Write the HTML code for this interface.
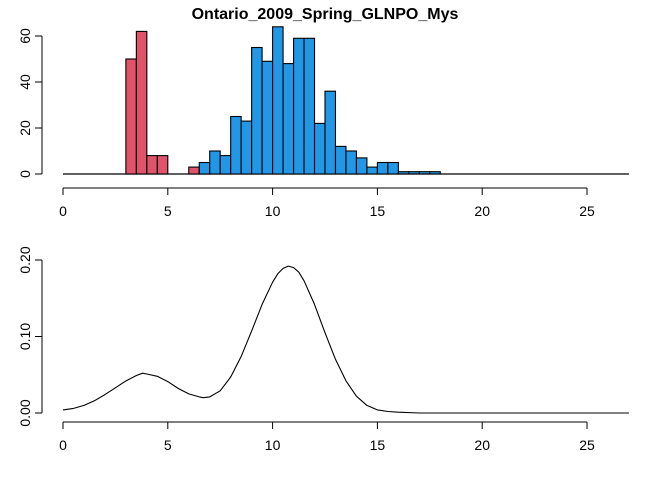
<!DOCTYPE html>
<html><head><meta charset="utf-8"><style>
html,body{margin:0;padding:0;background:#fff;}
svg{display:block;font-family:"Liberation Sans",Arial,sans-serif;}
</style></head><body>
<svg id="c" width="672" height="480" xmlns="http://www.w3.org/2000/svg">
<text x="325" y="19" text-anchor="middle" font-size="16" font-weight="bold">Ontario_2009_Spring_GLNPO_Mys</text>
<g id="topPanel"></g>
<g id="botPanel"></g>
</svg>
<script>
const redStarts = [3, 3.5, 4, 4.5, 6, 6.5];
const redCounts = [50, 62, 8, 8, 3, 2];
const blueStarts = [6.5,7,7.5,8,8.5,9,9.5,10,10.5,11,11.5,12,12.5,13,13.5,14,14.5,15,15.5,16,16.5,17,17.5];
const blueCounts = [5,10,8,25,23,55,49,64,48,59,59,22,36,12,10,7,3,5,5,1,1,1,1];
const binWidth = 0.5;
const xTicks = [0,5,10,15,20,25];
const histYTicks = [0,20,40,60];
const densX = [0,0.5,1,1.5,2,2.5,3,3.5,3.8,4,4.5,5,5.5,6,6.5,6.7,7,7.5,8,8.5,9,9.5,10,10.25,10.5,10.75,11,11.25,11.5,12,12.5,13,13.5,14,14.5,15,15.5,16,17,18,20,22,24,26,27];
const densY = [0.004,0.006,0.010,0.016,0.024,0.033,0.042,0.049,0.052,0.051,0.048,0.041,0.032,0.025,0.021,0.020,0.021,0.029,0.047,0.074,0.107,0.142,0.171,0.182,0.189,0.192,0.190,0.184,0.173,0.142,0.105,0.070,0.042,0.022,0.010,0.004,0.002,0.001,0,0,0,0,0,0,0];
const densYTicks = [0,0.1,0.2];
const densYLabels = ["0.00","0.10","0.20"];

const NS="http://www.w3.org/2000/svg";
function mk(parent,tag,attrs){const e=document.createElementNS(NS,tag);for(const k in attrs)e.setAttribute(k,attrs[k]);parent.appendChild(e);return e;}
const xs = v => 63 + v*(587-63)/25;
const hy = v => 174 - v*(174-36)/60;
const dy = v => 413 - v*(413-260)/0.2;
const topG=document.getElementById('topPanel'), botG=document.getElementById('botPanel');

let bl=mk(topG,'line',{x1:xs(0),x2:xs(27),y1:hy(0),y2:hy(0),stroke:'#000','stroke-width':1.3});


redStarts.forEach((s,i)=>{
  const r=mk(topG,'rect',{x:xs(s),y:hy(redCounts[i]),width:xs(s+binWidth)-xs(s),height:hy(0)-hy(redCounts[i]),fill:'#DF536B',stroke:'#000','stroke-width':1.1});
  
  
});
blueStarts.forEach((s,i)=>{
  const r=mk(topG,'rect',{x:xs(s),y:hy(blueCounts[i]),width:xs(s+binWidth)-xs(s),height:hy(0)-hy(blueCounts[i]),fill:'#2297E6',stroke:'#000','stroke-width':1.1});
  
  
});
function xAxis(g,y,name){
  const a=mk(g,'line',{x1:xs(0),x2:xs(25),y1:y,y2:y,stroke:'#000'});
  
  
  xTicks.forEach(t=>{
    mk(g,'line',{x1:xs(t),x2:xs(t),y1:y,y2:y+7,stroke:'#000'});
    const tx=mk(g,'text',{x:xs(t),y:y+28,'text-anchor':'middle','font-size':14,fill:'#000'});
    tx.textContent=t;
    
    
  });
}
function yAxis(g,ticks,labels,f,name){
  const a=mk(g,'line',{x1:42,x2:42,y1:f(ticks[0]),y2:f(ticks[ticks.length-1]),stroke:'#000'});
  
  
  ticks.forEach((t,i)=>{
    mk(g,'line',{x1:35,x2:42,y1:f(t),y2:f(t),stroke:'#000'});
    const tx=mk(g,'text',{x:0,y:0,'text-anchor':'middle','font-size':14,fill:'#000',transform:`translate(30,${f(t)}) rotate(-90)`});
    tx.textContent=labels[i];
    
    
  });
}
xAxis(topG,188,'hist-x-axis');
yAxis(topG,histYTicks,histYTicks.map(String),hy,'hist-y-axis');
xAxis(botG,422,'density-x-axis');
yAxis(botG,densYTicks,densYLabels,dy,'density-y-axis');
const pts=densX.map((x,i)=>xs(x).toFixed(1)+','+dy(densY[i]).toFixed(1));
const pl=mk(botG,'polyline',{points:pts.join(' '),fill:'none',stroke:'#000','stroke-width':1.1,'stroke-linejoin':'round'});


</script>
</body></html>
